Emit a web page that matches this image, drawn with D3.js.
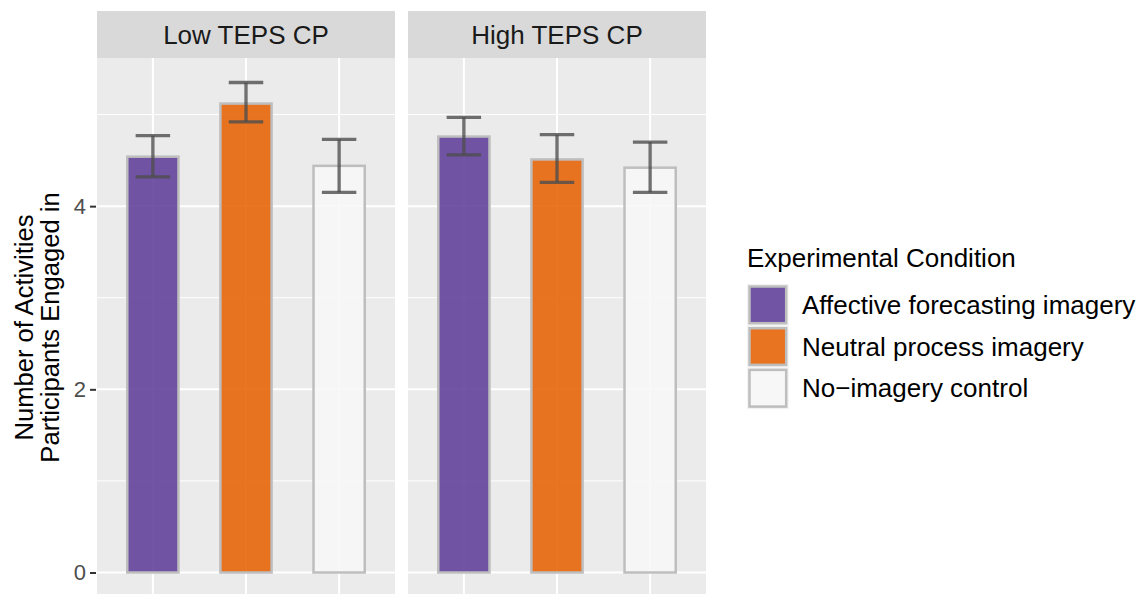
<!DOCTYPE html>
<html>
<head>
<meta charset="utf-8">
<script src="https://cdn.jsdelivr.net/npm/d3@7"></script>
<style>
  body { margin: 0; background: #fff; }
  text { font-family: "Liberation Sans", Arial, sans-serif; }
</style>
</head>
<body>
<div id="chart"></div>
<script>
// data
var panels = ["Low TEPS CP", "High TEPS CP"];
var conditions = ["Affective forecasting imagery", "Neutral process imagery", "No\u2212imagery control"];
var colors = ["#5E3C99", "#E66101", "#F7F7F7"];
var meanLow = [4.54, 5.12, 4.44];
var meanHigh = [4.76, 4.51, 4.42];
var errLoLow = [4.32, 4.92, 4.15];
var errHiLow = [4.77, 5.35, 4.73];
var errLoHigh = [4.56, 4.26, 4.15];
var errHiHigh = [4.97, 4.78, 4.70];
var yTicks = [0, 2, 4];
var yMinor = [1, 3, 5];

function init() {
    var w = 1148, h = 594;
    var panelTop = 58, panelBottom = 597, stripTop = 11;
    var panelX = [[97, 395], [408, 706]];

    var means = [meanLow, meanHigh];
    var los = [errLoLow, errLoHigh];
    var his = [errHiLow, errHiHigh];

    var yMax = d3.max(his.flat());
    var pad = yMax * 0.05;
    var y = d3.scaleLinear()
        .domain([-pad, yMax + pad])
        .range([panelBottom, panelTop]);

    var color = d3.scaleOrdinal().domain(conditions).range(colors);

    var svg = d3.select("#chart")
        .append("svg")
        .attr("width", w)
        .attr("height", h);

    panels.forEach(function(p, pi) {
        var x0 = panelX[pi][0], x1 = panelX[pi][1];
        var x = d3.scalePoint()
            .domain(conditions)
            .range([x0, x1])
            .padding(0.6);
        var step = x.step();
        var g = svg.append("g");

        // strip
        g.append("rect")
            .attr("x", x0).attr("y", stripTop)
            .attr("width", x1 - x0).attr("height", panelTop - stripTop)
            .attr("fill", "#D9D9D9");
        g.append("text")
            .attr("x", (x0 + x1) / 2).attr("y", (stripTop + panelTop) / 2)
            .attr("dy", "0.35em")
            .attr("text-anchor", "middle")
            .attr("font-size", 26)
            .attr("fill", "#1A1A1A")
            .text(p);

        // panel background
        g.append("rect")
            .attr("x", x0).attr("y", panelTop)
            .attr("width", x1 - x0).attr("height", panelBottom - panelTop)
            .attr("fill", "#EBEBEB");

        g.selectAll(".minor")
            .data(yMinor)
            .enter().append("line")
            .attr("x1", x0).attr("x2", x1)
            .attr("y1", function(d) { return y(d); })
            .attr("y2", function(d) { return y(d); })
            .attr("stroke", "#fff").attr("stroke-width", 1);

        g.selectAll(".major")
            .data(yTicks)
            .enter().append("line")
            .attr("x1", x0).attr("x2", x1)
            .attr("y1", function(d) { return y(d); })
            .attr("y2", function(d) { return y(d); })
            .attr("stroke", "#fff").attr("stroke-width", 2);

        g.selectAll(".vgrid")
            .data(conditions)
            .enter().append("line")
            .attr("x1", function(d) { return x(d); })
            .attr("x2", function(d) { return x(d); })
            .attr("y1", panelTop).attr("y2", panelBottom)
            .attr("stroke", "#fff").attr("stroke-width", 2);

        // bars
        var bw = step * 0.55;
        g.selectAll(".bar")
            .data(conditions)
            .enter().append("rect")
            .attr("x", function(d) { return x(d) - bw / 2; })
            .attr("y", function(d, i) { return y(means[pi][i]); })
            .attr("width", bw)
            .attr("height", function(d, i) { return y(0) - y(means[pi][i]); })
            .attr("fill", function(d) { return color(d); })
            .attr("fill-opacity", 0.87)
            .attr("stroke", "#BEBEBE")
            .attr("stroke-width", 2.5);

        // error bars
        var cw = step * 0.37;
        var eb = g.selectAll(".err")
            .data(conditions)
            .enter().append("g")
            .attr("stroke", "#4D4D4D")
            .attr("stroke-opacity", 0.8)
            .attr("stroke-width", 3.3);
        eb.append("line")
            .attr("x1", function(d) { return x(d); })
            .attr("x2", function(d) { return x(d); })
            .attr("y1", function(d, i) { return y(los[pi][i]); })
            .attr("y2", function(d, i) { return y(his[pi][i]); });
        eb.append("line")
            .attr("x1", function(d) { return x(d) - cw / 2; })
            .attr("x2", function(d) { return x(d) + cw / 2; })
            .attr("y1", function(d, i) { return y(his[pi][i]); })
            .attr("y2", function(d, i) { return y(his[pi][i]); });
        eb.append("line")
            .attr("x1", function(d) { return x(d) - cw / 2; })
            .attr("x2", function(d) { return x(d) + cw / 2; })
            .attr("y1", function(d, i) { return y(los[pi][i]); })
            .attr("y2", function(d, i) { return y(los[pi][i]); });
    });

    // y axis on the left panel
    var yAxis = d3.axisLeft(y)
        .tickValues(yTicks)
        .tickSize(6)
        .tickPadding(4)
        .tickFormat(d3.format("d"));
    var ax = svg.append("g")
        .attr("transform", "translate(" + (panelX[0][0] - 1) + ",0)")
        .call(yAxis);
    ax.select(".domain").remove();
    ax.selectAll(".tick line").attr("stroke", "#333").attr("stroke-width", 2);
    ax.selectAll(".tick text")
        .attr("font-size", 22)
        .attr("fill", "#4D4D4D")
        .style("font-family", "Liberation Sans, Arial, sans-serif");

    // y title
    var cy = (panelTop + panelBottom) / 2;
    var yt = svg.append("text")
        .attr("transform", "translate(0," + cy + ") rotate(-90)")
        .attr("text-anchor", "middle")
        .attr("font-size", 25.6)
        .attr("fill", "#000");
    yt.append("tspan").attr("x", 0).attr("y", 33).text("Number of Activities");
    yt.append("tspan").attr("x", 0).attr("y", 59).text("Participants Engaged in");

    // legend
    var lx = 747, ly = 284, ks = 41.7;
    svg.append("text")
        .attr("x", lx).attr("y", 267)
        .attr("font-size", 26)
        .attr("fill", "#000")
        .text("Experimental Condition");
    var items = svg.selectAll(".key")
        .data(conditions)
        .enter().append("g")
        .attr("transform", function(d, i) { return "translate(" + lx + "," + (ly + i * ks) + ")"; });
    items.append("rect")
        .attr("width", ks).attr("height", ks)
        .attr("fill", "#F2F2F2");
    items.append("rect")
        .attr("x", 2.5).attr("y", 2.5)
        .attr("width", ks - 5).attr("height", ks - 5)
        .attr("fill", function(d) { return color(d); })
        .attr("fill-opacity", 0.87)
        .attr("stroke", "#BEBEBE")
        .attr("stroke-width", 2.5);
    items.append("text")
        .attr("x", 55).attr("y", ks / 2)
        .attr("dy", "0.35em")
        .attr("font-size", 26)
        .attr("fill", "#000")
        .text(function(d) { return d; });
}
window.onload = init;
</script>
</body>
</html>
